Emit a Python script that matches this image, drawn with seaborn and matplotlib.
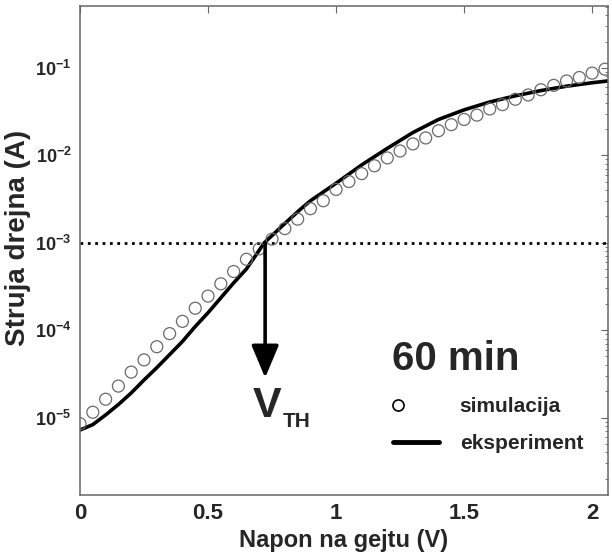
import numpy as np
import pandas as pd
import seaborn as sns
import matplotlib.pyplot as plt
from matplotlib.lines import Line2D
from matplotlib.legend_handler import HandlerLine2D

# simulacija (circles), every 0.05 V
sim_v = [0.00, 0.05, 0.10, 0.15, 0.20, 0.25, 0.30, 0.35, 0.40, 0.45,
         0.50, 0.55, 0.60, 0.65, 0.70, 0.75, 0.80, 0.85, 0.90, 0.95,
         1.00, 1.05, 1.10, 1.15, 1.20, 1.25, 1.30, 1.35, 1.40, 1.45,
         1.50, 1.55, 1.60, 1.65, 1.70, 1.75, 1.80, 1.85, 1.90, 1.95,
         2.00, 2.05]
sim_i = [8.5e-6, 1.15e-5, 1.62e-5, 2.29e-5, 3.31e-5, 4.57e-5, 6.46e-5, 9.12e-5, 1.26e-4, 1.78e-4,
         2.45e-4, 3.39e-4, 4.68e-4, 6.46e-4, 8.51e-4, 1.10e-3, 1.45e-3, 1.86e-3, 2.45e-3, 3.02e-3,
         4.07e-3, 5.01e-3, 6.17e-3, 7.59e-3, 9.33e-3, 1.12e-2, 1.35e-2, 1.58e-2, 1.91e-2, 2.24e-2,
         2.57e-2, 2.88e-2, 3.39e-2, 3.80e-2, 4.37e-2, 4.90e-2, 5.62e-2, 6.31e-2, 7.08e-2, 7.76e-2,
         8.71e-2, 9.66e-2]

# eksperiment (solid line)
exp_v = [0.0, 0.05, 0.1, 0.15, 0.2, 0.25, 0.3, 0.35, 0.4, 0.45, 0.5, 0.55, 0.6, 0.65,
         0.72, 0.8, 0.86, 0.9, 1.0, 1.1, 1.2, 1.3, 1.4, 1.5, 1.6, 1.7, 1.8, 1.9, 2.0, 2.06]
exp_i = [7.2e-6, 8.3e-6, 1.07e-5, 1.41e-5, 1.91e-5, 2.69e-5, 3.72e-5, 5.25e-5, 7.41e-5,
         1.10e-4, 1.58e-4, 2.34e-4, 3.47e-4, 5.01e-4,
         1.0e-3, 1.66e-3, 2.40e-3, 3.02e-3, 4.79e-3, 7.76e-3, 1.20e-2, 1.82e-2, 2.57e-2,
         3.31e-2, 4.07e-2, 4.79e-2, 5.50e-2, 6.17e-2, 6.76e-2, 7.08e-2]

i_th = 1e-3
v_th = 0.723

sim = pd.DataFrame({'V': sim_v, 'I': sim_i})
exp = pd.DataFrame({'V': exp_v, 'I': exp_i})


class LeftMarker(HandlerLine2D):
    # legend circle sits at the left end of the handle, as in the original
    def get_xdata(self, legend, xdescent, ydescent, width, height, fontsize):
        left = -xdescent
        return [left, left + 0.22 * width], [left + 0.11 * width]


sns.set_style('white')
plt.rcParams['font.family'] = ['Liberation Sans', 'DejaVu Sans']
plt.rcParams['font.weight'] = 'bold'
plt.rcParams['mathtext.fontset'] = 'custom'
plt.rcParams['mathtext.rm'] = 'Liberation Sans:bold'
plt.rcParams['mathtext.bf'] = 'Liberation Sans:bold'

fig = plt.figure(figsize=(6.12, 5.58), dpi=100)
ax = fig.add_axes([0.1307, 0.1129, 0.8628, 0.8763])

sns.lineplot(data=exp, x='V', y='I', ax=ax, color='black', linewidth=2.6)
sns.scatterplot(data=sim, x='V', y='I', ax=ax, marker='o', s=74, fc='none',
                ec='#6a6a6a', linewidth=0.9, zorder=3)

ax.set_yscale('log')
ax.set_xlim(0, 2.062)
ax.set_ylim(1.3e-6, 0.51)

# threshold line and arrow
ax.axhline(i_th, color='black', linestyle=':', linewidth=2.0)
ax.annotate('', xy=(v_th, 2.85e-5), xytext=(v_th, i_th),
            arrowprops=dict(arrowstyle='-|>,head_length=1.0,head_width=0.42',
                            mutation_scale=20, lw=2.6, color='black',
                            shrinkA=0, shrinkB=0))
ax.text(0.676, 1.02e-5, 'V', fontsize=31, fontweight='bold', ha='left', va='baseline')
ax.text(0.79, 7.7e-6, 'TH', fontsize=15, fontweight='bold', ha='left', va='baseline')

ax.text(0.591, 0.255, '60 min', transform=ax.transAxes, fontsize=29,
        fontweight='bold', ha='left', va='baseline')

h_sim = Line2D([], [], marker='o', linestyle='none', markersize=8,
               markerfacecolor='none', markeredgecolor='black', markeredgewidth=1.2)
h_exp = Line2D([], [], color='black', linewidth=3.5)
ax.legend([h_sim, h_exp], ['simulacija', 'eksperiment'], loc='upper left',
          bbox_to_anchor=(0.593, 0.2), frameon=False,
          borderpad=0, borderaxespad=0, handlelength=2.2, handletextpad=1.0,
          labelspacing=0.85, prop={'weight': 'bold', 'size': 15},
          handler_map={h_sim: LeftMarker()})

ax.set_xticks([0, 0.5, 1, 1.5, 2])
ax.set_xticklabels(['0', '0.5', '1', '1.5', '2'])
ax.set_xlabel('Napon na gejtu (V)', fontsize=17, fontweight='bold', labelpad=3)
ax.set_ylabel('Struja drejna (A)', fontsize=20, fontweight='bold')
ax.yaxis.set_label_coords(-0.092, 0.525)

for s in ax.spines.values():
    s.set_color('#666666')
    s.set_linewidth(1.1)
ax.tick_params(axis='both', which='both', direction='in', top=True, right=True,
               color='#666666')
ax.tick_params(axis='both', which='major', length=5, width=0.8)
ax.tick_params(axis='y', which='minor', length=2.5, width=0.6)
ax.tick_params(axis='x', which='major', labelsize=16, pad=6)
ax.tick_params(axis='y', which='major', labelsize=13, pad=6)
ax.tick_params(axis='x', which='minor', bottom=False, top=False)
for lab in ax.get_xticklabels() + ax.get_yticklabels():
    lab.set_fontweight('bold')

fig.savefig('out.png', dpi=100)
